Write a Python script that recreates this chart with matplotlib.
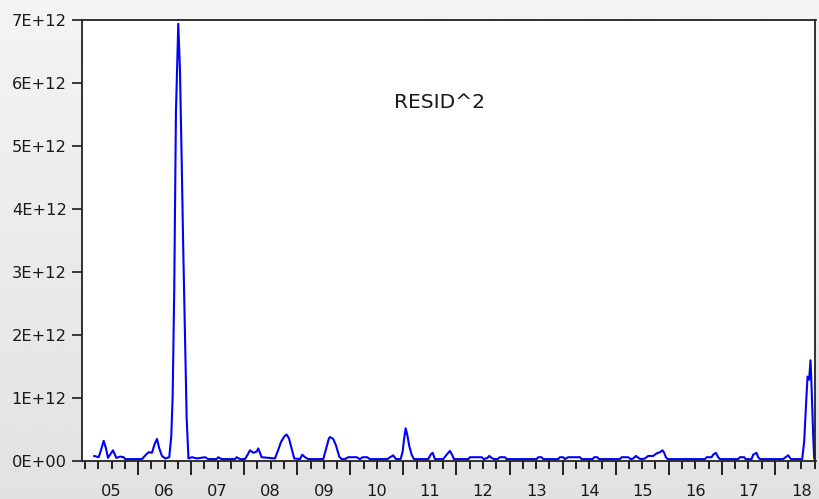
import numpy as np
import matplotlib.pyplot as plt
from matplotlib.ticker import FixedLocator, FuncFormatter

# vertices of RESID^2 line (time in years, value in 1E+12)
t = [2005.175, 2005.258, 2005.301, 2005.352, 2005.396, 2005.433, 2005.528, 2005.590,
     2005.665, 2005.729, 2005.759, 2006.074, 2006.149, 2006.200, 2006.262, 2006.313,
     2006.356, 2006.400, 2006.451, 2006.513, 2006.588, 2006.626, 2006.652, 2006.682,
     2006.714, 2006.758, 2006.790, 2006.822, 2006.852, 2006.884, 2006.916, 2006.950,
     2007.016, 2007.110, 2007.261, 2007.323, 2007.481, 2007.511, 2007.575, 2007.826,
     2007.858, 2007.920, 2008.014, 2008.065, 2008.109, 2008.171, 2008.235, 2008.265,
     2008.329, 2008.580, 2008.630, 2008.693, 2008.755, 2008.800, 2008.843, 2008.894,
     2008.943, 2009.051, 2009.094, 2009.145, 2009.207, 2009.490, 2009.535, 2009.597,
     2009.616, 2009.678, 2009.729, 2009.791, 2009.836, 2009.898, 2009.961, 2010.119,
     2010.181, 2010.232, 2010.318, 2010.369, 2010.695, 2010.808, 2010.859, 2010.948,
     2010.986, 2011.010, 2011.042, 2011.072, 2011.110, 2011.155, 2011.198, 2011.468,
     2011.513, 2011.551, 2011.594, 2011.750, 2011.815, 2011.877, 2011.928, 2011.952,
     2012.222, 2012.253, 2012.474, 2012.517, 2012.587, 2012.617, 2012.662, 2012.711,
     2012.775, 2012.818, 2012.913, 2012.945, 2013.510, 2013.540, 2013.604, 2013.634,
     2013.917, 2013.949, 2014.011, 2014.043, 2014.105, 2014.326, 2014.358, 2014.565,
     2014.595, 2014.652, 2014.689, 2015.079, 2015.111, 2015.236, 2015.281, 2015.330,
     2015.381, 2015.443, 2015.488, 2015.550, 2015.612, 2015.706, 2015.770, 2015.833,
     2015.883, 2015.914, 2015.946, 2015.978, 2016.681, 2016.713, 2016.807, 2016.837,
     2016.888, 2016.931, 2016.963, 2017.308, 2017.340, 2017.421, 2017.447, 2017.560,
     2017.591, 2017.654, 2017.685, 2017.717, 2018.156, 2018.201, 2018.250, 2018.301,
     2018.514, 2018.552, 2018.583, 2018.615, 2018.645, 2018.671, 2018.690, 2018.721,
     2018.740]
resid2 = [0.08, 0.06, 0.17, 0.32, 0.20, 0.05, 0.17, 0.05,
          0.07, 0.06, 0.03, 0.03, 0.10, 0.14, 0.13, 0.27,
          0.35, 0.20, 0.08, 0.04, 0.06, 0.39, 1.02, 2.72,
          5.53, 6.94, 6.20, 4.78, 3.35, 1.98, 0.68, 0.04,
          0.06, 0.04, 0.06, 0.03, 0.03, 0.06, 0.03, 0.03,
          0.06, 0.03, 0.03, 0.10, 0.17, 0.13, 0.15, 0.20,
          0.06, 0.04, 0.15, 0.30, 0.39, 0.42, 0.36, 0.20,
          0.04, 0.03, 0.10, 0.06, 0.03, 0.03, 0.17, 0.36,
          0.38, 0.35, 0.25, 0.07, 0.03, 0.03, 0.06, 0.06,
          0.03, 0.06, 0.06, 0.03, 0.03, 0.09, 0.03, 0.03,
          0.15, 0.33, 0.52, 0.42, 0.24, 0.10, 0.03, 0.03,
          0.10, 0.13, 0.03, 0.03, 0.10, 0.16, 0.08, 0.03,
          0.03, 0.06, 0.06, 0.03, 0.05, 0.08, 0.05, 0.03,
          0.03, 0.06, 0.06, 0.03, 0.03, 0.06, 0.06, 0.03,
          0.03, 0.06, 0.06, 0.03, 0.06, 0.06, 0.03, 0.03,
          0.06, 0.06, 0.03, 0.03, 0.06, 0.06, 0.03, 0.04,
          0.08, 0.04, 0.03, 0.04, 0.08, 0.08, 0.12, 0.14,
          0.17, 0.13, 0.06, 0.03, 0.03, 0.06, 0.06, 0.10,
          0.13, 0.06, 0.03, 0.03, 0.06, 0.06, 0.03, 0.03,
          0.10, 0.13, 0.06, 0.03, 0.03, 0.06, 0.09, 0.03,
          0.03, 0.31, 0.84, 1.34, 1.29, 1.60, 1.20, 0.41,
          0.04]

years = list(range(2005, 2019))
year_labels = ['05', '06', '07', '08', '09', '10', '11', '12', '13', '14', '15', '16', '17', '18']

plt.rcParams['font.family'] = ['DejaVu Sans']

fig = plt.figure(figsize=(8.2, 4.99), dpi=100)

# grey gradient background like the EViews window
bg = fig.add_axes([0, 0, 1, 1], zorder=-1)
grad = np.linspace(0.955, 0.885, 256).reshape(-1, 1)
bg.imshow(grad, aspect='auto', cmap='gray', vmin=0, vmax=1, extent=[0, 1, 0, 1])
bg.axis('off')

ax = fig.add_axes([82 / 820, 38 / 499, 733.5 / 820, 441 / 499])
ax.set_facecolor('white')
ax.plot(t, np.array(resid2) * 1e12, color='#0000ff', lw=1.5)

ax.set_xlim(2004.944, 2018.765)
ax.set_ylim(0, 7e12)

ax.yaxis.set_major_locator(FixedLocator(np.arange(0, 8) * 1e12))
ax.yaxis.set_major_formatter(FuncFormatter(
    lambda v, p: '0E+00' if v == 0 else '%dE+12' % round(v / 1e12)))

ax.set_xticks(years[1:])
ax.set_xticklabels([])
quarters = [y + q for y in years for q in (0, 0.25, 0.5, 0.75) if y + q < 2018.76]
ax.set_xticks(quarters, minor=True)
ax.set_xticklabels([year_labels[years.index(int(q))] if q % 1 == 0.5 else '' for q in quarters],
                   minor=True)

ax.tick_params(axis='y', direction='out', length=7, width=1.2, pad=4, labelsize=11.7,
               colors='#1a1a1a')
ax.tick_params(axis='x', which='major', direction='out', length=10, width=1.2, labelsize=11.7)
ax.tick_params(axis='x', which='minor', direction='out', length=5.5, width=1.2, pad=11,
               labelsize=11.7, labelcolor='#1a1a1a')

for s in ax.spines.values():
    s.set_linewidth(1.3)
    s.set_color('#222222')

ax.text(0.487, 0.812, 'RESID^2', transform=ax.transAxes, ha='center', va='center',
        fontsize=14.5, color='#1a1a1a')

fig.savefig('out.png', dpi=100, facecolor=fig.get_facecolor())
